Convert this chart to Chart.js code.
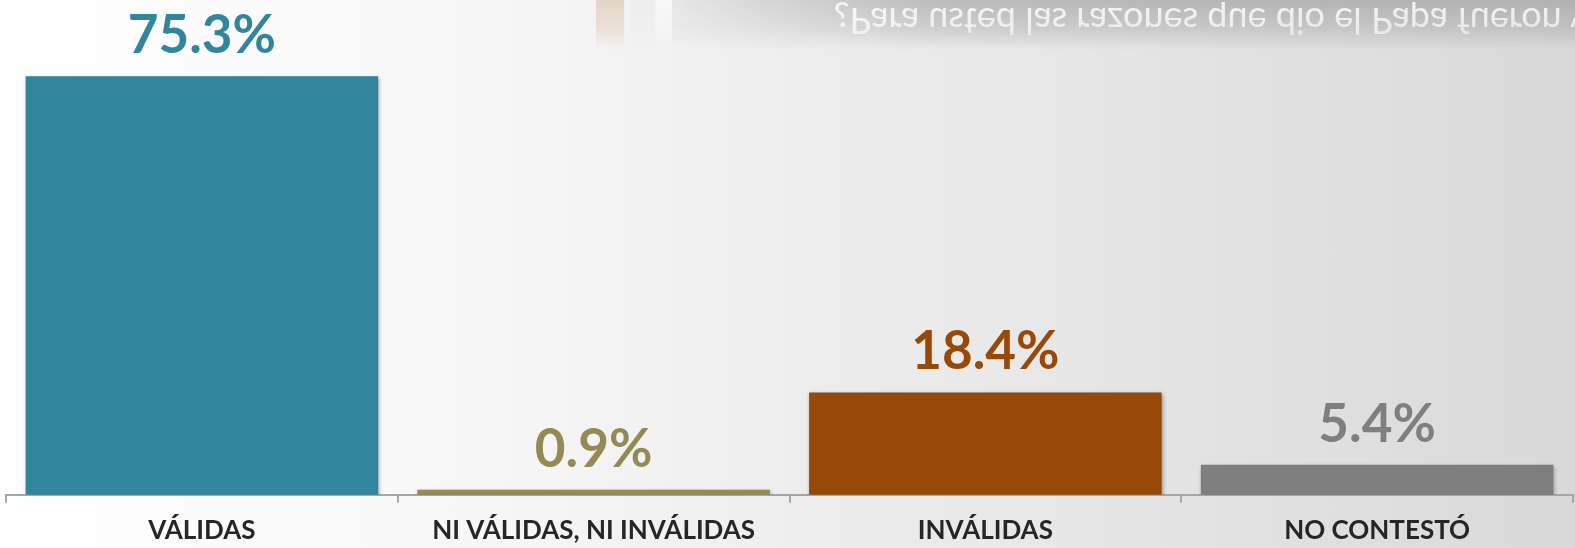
<!DOCTYPE html>
<html>
<head>
<meta charset="utf-8">
<script src="https://cdn.jsdelivr.net/npm/chart.js@4.4.0/dist/chart.umd.min.js"></script>
<style>
  html, body { margin: 0; padding: 0; }
  body {
    width: 1575px; height: 548px; overflow: hidden; position: relative;
    background: linear-gradient(to right, #ffffff 0%, #f7f7f7 30%, #ececec 55%, #e2e2e2 78%, #d9d9d9 100%);
  }
  #reflection {
    position: absolute; left: 595px; top: 0; width: 980px; height: 50px; overflow: hidden;
    -webkit-mask-image: linear-gradient(to bottom, rgba(0,0,0,1) 0%, rgba(0,0,0,0.6) 55%, rgba(0,0,0,0) 100%);
  }
  #reflection .shade {
    position: absolute; left: 77px; top: 0; right: 0; bottom: 0;
    background: linear-gradient(to right, rgba(170,170,170,0.15) 0%, rgba(170,170,170,0.75) 30%, rgba(170,170,170,0.85) 100%);
  }
  #reflection .strip { position: absolute; top: 0; bottom: 0; }
  #reflection .title {
    position: absolute; left: 239px; top: 0px; white-space: nowrap;
    font-family: "Lato", sans-serif; font-size: 36px; color: rgba(255,255,255,0.85);
    transform: scaleY(-1);
  }
  #wrap { position: absolute; left: 0; top: 0; width: 1575px; height: 548px; }
</style>
</head>
<body>
<div id="reflection">
  <div class="shade"></div>
  <div class="strip" style="left:1px;width:28px;background:rgba(226,210,192,0.9)"></div>
  <div class="strip" style="left:36px;width:24px;background:rgba(236,236,236,0.9)"></div>
  <div class="strip" style="left:61px;width:16px;background:rgba(248,248,248,0.95)"></div>
  <div class="title">¿Para usted las razones que dio el Papa fueron válidas?</div>
</div>
<div id="wrap"><canvas id="respuestasChart" width="1575" height="548"></canvas></div>
<script>
const categorias = ["VÁLIDAS", "NI VÁLIDAS, NI INVÁLIDAS", "INVÁLIDAS", "NO CONTESTÓ"];
const porcentajes = [75.3, 0.9, 18.4, 5.4];
const colores = ["#31859C", "#948A54", "#984807", "#7F7F7F"];

// etiquetas de valor encima de cada barra
const valueLabels = {
  id: "valueLabels",
  beforeDatasetsDraw(chart) {
    const ctx = chart.ctx;
    ctx.save();
    ctx.shadowColor = "rgba(0,0,0,0.35)";
    ctx.shadowBlur = 4;
    ctx.shadowOffsetX = 1;
    ctx.shadowOffsetY = 2;
  },
  afterDatasetsDraw(chart) {
    const ctx = chart.ctx;
    ctx.restore();
    const meta = chart.getDatasetMeta(0);
    ctx.save();
    ctx.font = "bold 53px Lato, sans-serif";
    ctx.textAlign = "center";
    ctx.textBaseline = "alphabetic";
    meta.data.forEach((bar, i) => {
      ctx.fillStyle = colores[i];
      ctx.fillText(porcentajes[i].toFixed(1) + "%", bar.x, bar.y - 23);
    });
    ctx.restore();
  }
};

const ctx = document.getElementById("respuestasChart").getContext("2d");
new Chart(ctx, {
  type: "bar",
  data: {
    labels: categorias,
    datasets: [
      {
        data: porcentajes,
        backgroundColor: colores,
        borderWidth: 0,
        barPercentage: 0.9,
        categoryPercentage: 1.0,
      },
    ],
  },
  options: {
    responsive: false,
    animation: false,
    layout: { padding: { left: 6, right: 2, top: 50, bottom: -10 } },
    plugins: {
      legend: { display: false },
      tooltip: { enabled: false },
    },
    scales: {
      y: { display: false, min: 0, max: 80 },
      x: {
        border: { display: true, color: "#a6a6a6", width: 2 },
        grid: {
          display: true,
          offset: true,
          drawOnChartArea: false,
          drawTicks: true,
          tickLength: 8,
          color: "#a6a6a6",
          lineWidth: 2,
        },
        ticks: {
          padding: 12,
          color: "#262626",
          font: { family: "Lato", size: 26, weight: "bold", lineHeight: 1.2 },
          maxRotation: 0,
        },
      },
    },
  },
  plugins: [valueLabels],
});
</script>
</body>
</html>
